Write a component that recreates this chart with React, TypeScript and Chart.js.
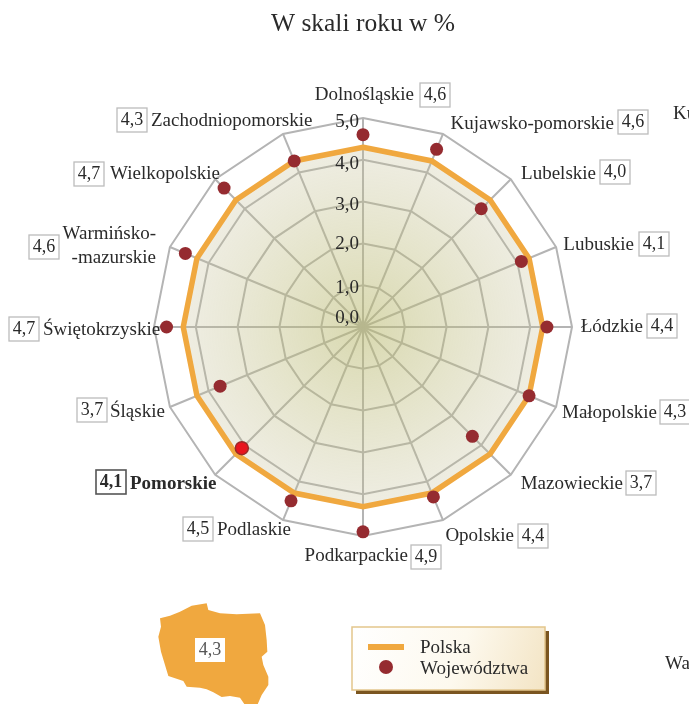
import React, { useEffect, useRef } from "react";
import { Chart, registerables } from "chart.js";

Chart.register(...registerables);

const regions = ["Dolnośląskie","Kujawsko-pomorskie","Lubelskie","Lubuskie","Łódzkie","Małopolskie","Mazowieckie","Opolskie","Podkarpackie","Podlaskie","Pomorskie","Śląskie","Świętokrzyskie","Warmińsko-mazurskie","Wielkopolskie","Zachodniopomorskie"];
const regionValues = [4.6,4.6,4.0,4.1,4.4,4.3,3.7,4.4,4.9,4.5,4.1,3.7,4.7,4.6,4.7,4.3];
const polandValues = [4.3,4.3,4.3,4.3,4.3,4.3,4.3,4.3,4.3,4.3,4.3,4.3,4.3,4.3,4.3,4.3];
const polandValue = 4.3;
const highlighted = "Pomorskie";
const titleText = "W skali roku w %";
const seriesPoland = "Polska";
const seriesRegions = "Województwa";
const clippedTexts = ["Ku", "Wa"];

// layout only: text x, text align, text y, box left, box top
const labelLayout: [number, CanvasTextAlign, number, number, number][] = [
  [414,"right",95,420,83],[614,"right",124,618,110],[596,"right",174,600,160],[634,"right",245,639,232],
  [643,"right",327,647,314],[657,"right",413,660,400],[623,"right",484,626,471],[514,"right",536,518,524],
  [408,"right",556,411,545],[217,"left",530,183,517],[130,"left",484,96,470],[110,"left",412,77,398],
  [43,"left",330,9,317],[156,"right",234,29,235],[110,"left",174,74,162],[151,"left",121,117,108],
];
const tickOffsets = [-9,3,1,3,4,4];
const clippedLayout = [[673,114],[665,664]];
const mapOutline = [[30,70],[60,62],[90,50],[125,32],[170,25],[175,45],[210,55],[260,58],[330,55],[345,90],[350,135],[352,170],[335,185],[340,210],[355,245],[355,270],[335,300],[322,330],[285,330],[270,308],[240,303],[215,306],[190,292],[170,283],[150,278],[110,275],[100,258],[55,243],[45,210],[33,170],[25,125],[33,95]];

const serif = '"Liberation Serif", serif';
const dec = (v: number) => v.toFixed(1).replace(".", ",");
const ORANGE = "#f0a83f";
const DOT = "#952b30";

function valueBox(c: CanvasRenderingContext2D, x: number, y: number, text: string, strong = false) {
  c.fillStyle = "#fff";
  c.fillRect(x, y, 30, 24);
  c.strokeStyle = strong ? "#555" : "#bcbcbc";
  c.lineWidth = strong ? 1.6 : 1.3;
  c.strokeRect(x, y, 30, 24);
  c.fillStyle = "#2a2a2a";
  c.font = (strong ? "bold " : "") + "18px " + serif;
  c.textAlign = "center";
  c.textBaseline = "middle";
  c.fillText(text, x + 15, y + 12);
}

const decorations = {
  id: "decorations",
  afterDraw(chart: any) {
    const c: CanvasRenderingContext2D = chart.ctx;
    const r = chart.scales.r;
    c.save();
    // tick labels
    c.fillStyle = "#2a2a2a";
    c.font = "19px " + serif;
    c.textAlign = "right";
    c.textBaseline = "middle";
    r.ticks.forEach((t: any, i: number) => {
      const y = r.getDistanceFromCenterForValue(t.value);
      c.fillText(dec(t.value), r.xCenter - 4, r.yCenter - y + tickOffsets[i]);
    });
    // region labels
    regions.forEach((name, i) => {
      const [tx, align, ty, bx, by] = labelLayout[i];
      const strong = name === highlighted;
      c.fillStyle = "#2a2a2a";
      c.font = (strong ? "bold " : "") + "19px " + serif;
      c.textAlign = align;
      c.textBaseline = "middle";
      if (name === "Warmińsko-mazurskie") {
        c.fillText("Warmińsko-", tx, ty);
        c.fillText("-mazurskie", tx, ty + 24);
      } else {
        c.fillText(name, tx, ty);
      }
      valueBox(c, bx, by, dec(regionValues[i]), strong);
    });
    // clipped neighbours
    c.fillStyle = "#2a2a2a";
    c.font = "19px " + serif;
    c.textAlign = "left";
    clippedTexts.forEach((t, i) => c.fillText(t, clippedLayout[i][0], clippedLayout[i][1]));
    // map
    c.fillStyle = ORANGE;
    c.beginPath();
    mapOutline.forEach(([x, y], i) => {
      const px = 150 + x / 3, py = 595 + y / 3;
      if (i) c.lineTo(px, py); else c.moveTo(px, py);
    });
    c.closePath();
    c.fill();
    c.fillStyle = "#fff";
    c.fillRect(195, 638, 30, 24);
    c.fillStyle = "#555";
    c.font = "18px " + serif;
    c.textAlign = "center";
    c.fillText(dec(polandValue), 210, 650);
    // legend box
    c.fillStyle = "#7a5520";
    c.fillRect(356, 631, 193, 63);
    const g = c.createLinearGradient(352, 627, 545, 690);
    g.addColorStop(0, "#ffffff");
    g.addColorStop(0.55, "#fdf9ee");
    g.addColorStop(1, "#f3e4c4");
    c.fillStyle = g;
    c.fillRect(352, 627, 193, 63);
    c.strokeStyle = "#e3c68c";
    c.lineWidth = 1.5;
    c.strokeRect(352, 627, 193, 63);
    c.fillStyle = ORANGE;
    c.fillRect(368, 644, 36, 6);
    c.fillStyle = DOT;
    c.beginPath();
    c.arc(386, 667, 7, 0, Math.PI * 2);
    c.fill();
    c.fillStyle = "#2a2a2a";
    c.font = "19px " + serif;
    c.textAlign = "left";
    c.fillText(seriesPoland, 420, 648);
    c.fillText(seriesRegions, 420, 669);
    c.restore();
  },
};

export default function App() {
  const ref = useRef<HTMLCanvasElement>(null);
  useEffect(() => {
    document.body.style.margin = "0";
    const chart = new Chart(ref.current!, {
      type: "radar",
      data: {
        labels: regions,
        datasets: [
          {
            label: seriesPoland,
            data: polandValues,
            order: 1,
            borderColor: ORANGE,
            borderWidth: 5.5,
            borderJoinStyle: "miter",
            pointRadius: 0,
            fill: "start",
            backgroundColor: (ctx: any) => {
              const r = ctx.chart.scales.r;
              if (!r || !r.drawingArea) return "rgba(200,195,150,0.3)";
              const g = ctx.chart.ctx.createRadialGradient(r.xCenter, r.yCenter, 0, r.xCenter, r.yCenter, 180);
              g.addColorStop(0, "rgba(185,185,110,0.55)");
              g.addColorStop(0.5, "rgba(190,188,125,0.4)");
              g.addColorStop(1, "rgba(195,190,150,0.27)");
              return g;
            },
          },
          {
            label: seriesRegions,
            data: regionValues,
            order: 0,
            showLine: false,
            fill: false,
            pointRadius: 6.5,
            pointBorderWidth: (ctx: any) => (regions[ctx.dataIndex] === highlighted ? 1.5 : 0),
            pointBorderColor: "#9a2a2a",
            pointBackgroundColor: (ctx: any) => (regions[ctx.dataIndex] === highlighted ? "#e8141f" : DOT),
          },
        ],
      },
      options: {
        responsive: false,
        animation: false,
        layout: { padding: { left: 154, right: 117, top: 0, bottom: 168 } },
        scales: {
          r: {
            min: 0,
            max: 5,
            ticks: { stepSize: 1, display: false },
            pointLabels: { display: false },
            grid: { color: "#b4b4b4", lineWidth: 2 },
            angleLines: { color: "#b4b4b4", lineWidth: 2 },
          },
        },
        plugins: {
          legend: { display: false },
          tooltip: { enabled: false },
          title: {
            display: true,
            text: titleText,
            fullSize: false,
            color: "#2a2a2a",
            font: { family: serif, size: 25.5, weight: "normal" },
            padding: { top: 9, bottom: 78.4 },
          },
        },
      },
      plugins: [decorations],
    } as any);
    return () => chart.destroy();
  }, []);
  return (
    <div style={{ position: "absolute", left: 0, top: 0, width: 689, height: 704, background: "#fff", overflow: "hidden" }}>
      <canvas ref={ref} width={689} height={704} style={{ display: "block" }} />
    </div>
  );
}
